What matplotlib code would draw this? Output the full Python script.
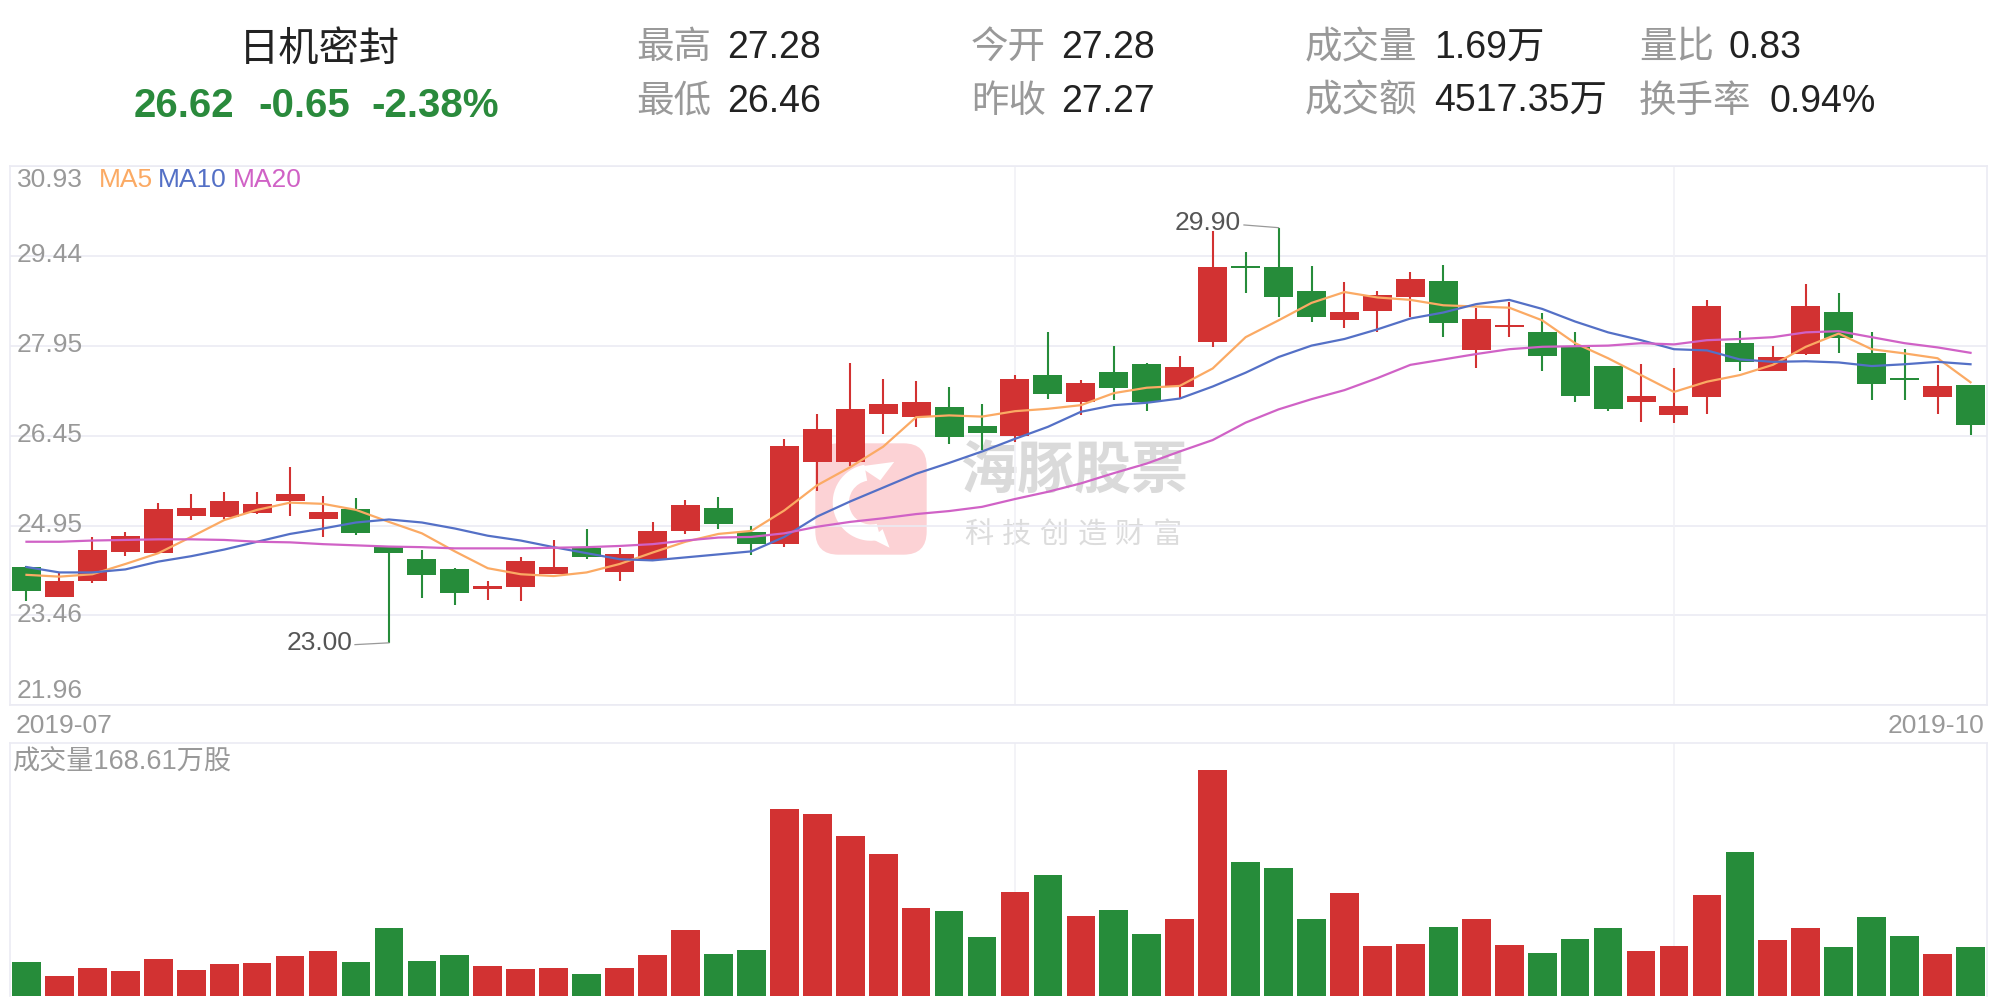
import numpy as np
import matplotlib
matplotlib.use("Agg")
import matplotlib.pyplot as plt
from matplotlib.patches import FancyBboxPatch, Wedge, Polygon
import matplotlib.transforms as mtransforms

plt.rcParams['font.family'] = ['Liberation Sans', 'Noto Sans CJK SC', 'DejaVu Sans']

W, H = 2001, 999

# daily candles (60 sessions, 2019-07 .. 2019-10)
opens = [24.26, 23.76, 24.03, 24.51, 24.50, 25.11, 25.09, 25.16, 25.35, 25.05,
         25.23, 24.60, 24.40, 24.22, 23.90, 23.92, 24.15, 24.58, 24.18, 24.38,
         24.86, 25.24, 24.84, 24.65, 26.00, 26.01, 26.81, 26.76, 26.92, 26.60,
         26.44, 27.45, 27.00, 27.50, 27.63, 27.26, 28.00, 29.26, 29.24, 28.84,
         28.37, 28.51, 28.75, 29.01, 27.87, 28.27, 28.16, 27.92, 27.60, 27.00,
         26.79, 27.09, 27.99, 27.52, 27.80, 28.50, 27.82, 27.41, 27.08, 27.28]
highs = [24.27, 24.16, 24.76, 24.85, 25.33, 25.48, 25.50, 25.50, 25.92, 25.44,
         25.41, 24.60, 24.55, 24.24, 24.03, 24.43, 24.71, 24.90, 24.58, 25.00,
         25.38, 25.42, 24.94, 26.39, 26.81, 27.65, 27.39, 27.35, 27.25, 26.97,
         27.45, 28.16, 27.36, 27.94, 27.65, 27.76, 29.84, 29.49, 29.90, 29.26,
         28.99, 28.85, 29.16, 29.28, 28.57, 28.66, 28.48, 28.16, 27.60, 27.64,
         27.56, 28.69, 28.18, 27.94, 28.97, 28.81, 28.16, 27.89, 27.61, 27.28]
lows = [23.70, 23.76, 24.00, 24.45, 24.50, 25.04, 25.05, 25.14, 25.11, 24.76,
        24.79, 23.00, 23.75, 23.63, 23.72, 23.70, 24.15, 24.40, 24.02, 24.38,
        24.81, 24.89, 24.46, 24.60, 25.53, 25.94, 26.47, 26.58, 26.31, 26.21,
        26.33, 27.06, 26.78, 27.03, 26.86, 27.07, 27.92, 28.82, 28.41, 28.34,
        28.24, 28.16, 28.41, 28.08, 27.57, 28.08, 27.51, 27.01, 26.86, 26.67,
        26.66, 26.81, 27.51, 27.51, 27.79, 27.82, 27.03, 27.03, 26.81, 26.46]
closes = [23.86, 24.03, 24.54, 24.78, 25.23, 25.24, 25.36, 25.31, 25.48, 25.17,
          24.82, 24.49, 24.12, 23.82, 23.94, 24.36, 24.26, 24.42, 24.48, 24.86,
          25.29, 24.97, 24.64, 26.27, 26.56, 26.89, 26.97, 27.00, 26.42, 26.48,
          27.39, 27.14, 27.32, 27.24, 27.01, 27.58, 29.24, 29.25, 28.74, 28.41,
          28.50, 28.78, 29.04, 28.31, 28.38, 28.30, 27.77, 27.10, 26.88, 27.11,
          26.94, 28.60, 27.67, 27.75, 28.60, 28.06, 27.30, 27.38, 27.27, 26.62]
# volume in 万股
volumes = [117.0, 68.8, 96.3, 86.0, 127.3, 89.5, 110.1, 113.6, 137.6, 154.8,
           117.0, 234.0, 120.4, 141.1, 103.2, 92.9, 96.3, 75.7, 96.3, 141.1,
           227.1, 144.5, 158.3, 643.5, 626.3, 550.6, 488.6, 302.8, 292.5, 203.0,
           357.9, 416.4, 275.3, 295.9, 213.3, 265.0, 777.7, 461.1, 440.4, 265.0,
           354.4, 172.1, 178.9, 237.4, 265.0, 175.5, 148.0, 196.1, 234.0, 154.8,
           172.1, 347.5, 495.5, 192.7, 234.0, 168.6, 271.8, 206.5, 144.5, 168.61]

ma5 = [24.13, 24.10, 24.14, 24.31, 24.49, 24.76, 25.04, 25.21, 25.33, 25.31,
       25.21, 25.01, 24.82, 24.52, 24.24, 24.14, 24.11, 24.17, 24.31, 24.50,
       24.68, 24.81, 24.86, 25.20, 25.62, 25.92, 26.26, 26.75, 26.78, 26.76,
       26.85, 26.89, 26.95, 27.15, 27.24, 27.27, 27.56, 28.08, 28.36, 28.65,
       28.83, 28.74, 28.70, 28.61, 28.59, 28.57, 28.36, 27.98, 27.73, 27.45,
       27.17, 27.34, 27.45, 27.62, 27.92, 28.14, 27.88, 27.81, 27.73, 27.33]
ma10 = [24.26, 24.17, 24.17, 24.22, 24.35, 24.44, 24.55, 24.68, 24.81, 24.90,
        25.00, 25.05, 25.00, 24.90, 24.78, 24.70, 24.59, 24.49, 24.39, 24.37,
        24.42, 24.47, 24.52, 24.76, 25.10, 25.35, 25.58, 25.81, 25.99, 26.18,
        26.39, 26.59, 26.84, 26.95, 26.99, 27.06, 27.26, 27.49, 27.75, 27.94,
        28.05, 28.21, 28.39, 28.49, 28.63, 28.70, 28.55, 28.34, 28.16, 28.03,
        27.88, 27.86, 27.71, 27.67, 27.68, 27.66, 27.60, 27.63, 27.67, 27.63]
ma20 = [24.68, 24.68, 24.70, 24.71, 24.72, 24.72, 24.71, 24.68, 24.67, 24.64,
        24.62, 24.60, 24.59, 24.57, 24.57, 24.57, 24.58, 24.59, 24.61, 24.64,
        24.70, 24.75, 24.76, 24.82, 24.93, 25.01, 25.07, 25.14, 25.19, 25.26,
        25.39, 25.51, 25.65, 25.82, 25.98, 26.18, 26.37, 26.66, 26.88, 27.05,
        27.20, 27.40, 27.62, 27.71, 27.80, 27.88, 27.92, 27.93, 27.94, 27.98,
        27.96, 28.03, 28.05, 28.08, 28.16, 28.18, 28.08, 27.98, 27.91, 27.82]

price_labels = ['21.96', '23.46', '24.95', '26.45', '27.95', '29.44', '30.93']
month_labels = ['2019-07', '2019-10']
month_grid = [30, 50]

RED = '#d23232'
GREEN = '#268c3a'
GRID = '#ebebf3'
LABEL = '#999999'
TEXT = '#222222'


def fx(x):
    return x / W


def fy(y):
    return 1 - y / H


def main():
    fig = plt.figure(figsize=(W / 100, H / 100), dpi=100)
    fig.patch.set_facecolor('white')

    n = len(closes)
    x = np.arange(n)
    o = np.array(opens)
    c = np.array(closes)
    up = c >= o
    colors = [RED if u else GREEN for u in up]

    # --- price panel
    top, bot = 165.7, 705.4
    ax = fig.add_axes([fx(10), fy(bot), 1977 / W, (bot - top) / H])
    ax.set_zorder(1)
    ax.patch.set_alpha(0)
    ymin, ymax = float(price_labels[0]), float(price_labels[-1])
    ax.set_xlim(-0.5, n - 0.5)
    ax.set_ylim(ymin, ymax)
    ax.set_xticks([])
    ax.set_yticks([])
    for s in ax.spines.values():
        s.set_color(GRID)
        s.set_linewidth(1.2)

    ticks = np.linspace(ymin, ymax, len(price_labels))
    for t in ticks:
        ax.axhline(t, color=GRID, lw=1.2, zorder=0)
    for g in month_grid:
        ax.axvline(g, color='#f1f1f6', lw=1.2, zorder=0)

    trans = mtransforms.blended_transform_factory(ax.transAxes, ax.transData)
    for i, (t, lab) in enumerate(zip(ticks, price_labels)):
        if i == 0:
            yb = t + 0.12
        elif i == len(ticks) - 1:
            yb = t - 0.354
        else:
            yb = t - 0.106
        ax.text(7 / 1977, yb, lab, transform=trans, fontsize=19, color=LABEL,
                va='baseline', ha='left', zorder=6)

    # candles
    ax.vlines(x, lows, highs, colors=colors, lw=1.5, zorder=2)
    body = np.maximum(np.abs(c - o), 0.04)
    bottom = np.minimum(o, c) - np.where(np.abs(c - o) < 0.04, 0.02, 0)
    ax.bar(x, body, bottom=bottom, width=0.88, color=colors, zorder=3)

    # moving averages
    ax.plot(x, ma5, color='#fbaa64', lw=1.6, zorder=4)
    ax.plot(x, ma10, color='#5470c6', lw=1.6, zorder=4)
    ax.plot(x, ma20, color='#d062c6', lw=1.6, zorder=4)

    legend_y = ymax - 0.354
    for lab, col, px in [('MA5', '#fbaa64', 99), ('MA10', '#5470c6', 158),
                         ('MA20', '#d062c6', 233)]:
        ax.text((px - 10) / 1977, legend_y, lab, transform=trans, fontsize=19,
                color=col, va='baseline', ha='left', zorder=6)

    # low / high marks
    ilo = int(np.argmin(lows))
    ihi = int(np.argmax(highs))
    ax.plot([ilo - 1.03, ilo], [lows[ilo] - 0.03, lows[ilo]], color='#999999', lw=0.9, zorder=5)
    ax.text(ilo - 1.12, lows[ilo], '%.2f' % lows[ilo], fontsize=19, color='#555555',
            ha='right', va='center', zorder=6)
    ax.plot([ihi - 1.05, ihi], [highs[ihi] + 0.045, highs[ihi]], color='#999999', lw=0.9, zorder=5)
    ax.text(ihi - 1.14, highs[ihi] + 0.07, '%.2f' % highs[ihi], fontsize=19, color='#555555',
            ha='right', va='center', zorder=6)

    # --- volume panel
    vtop, vbot = 743.3, 996
    vax = fig.add_axes([fx(10), fy(vbot), 1977 / W, (vbot - vtop) / H])
    vax.set_xlim(-0.5, n - 0.5)
    vax.set_ylim(0, volumes[-1] * (vbot - vtop) / 49)
    vax.set_xticks([])
    vax.set_yticks([])
    for k, s in vax.spines.items():
        s.set_color(GRID)
        s.set_linewidth(1.2)
    vax.spines['bottom'].set_visible(False)
    for g in month_grid:
        vax.axvline(g, color='#f1f1f6', lw=1.2, zorder=0)
    vax.bar(x, volumes, width=0.87, color=colors, zorder=2)
    fig.text(fx(13), fy(770), '成交量%.2f万股' % volumes[-1], fontsize=19.5,
             color=LABEL, va='baseline', ha='left')

    fig.text(fx(16), fy(733), month_labels[0], fontsize=19, color=LABEL,
             va='baseline', ha='left')
    fig.text(fx(1984), fy(733), month_labels[1], fontsize=19, color=LABEL,
             va='baseline', ha='right')

    # --- watermark
    lax = fig.add_axes([fx(813), fy(557), 116 / W, 116 / H])
    lax.set_zorder(0.2)
    lax.set_xlim(0, 1)
    lax.set_ylim(0, 1)
    lax.axis('off')
    lax.add_patch(FancyBboxPatch((0.02, 0.02), 0.96, 0.96,
                                 boxstyle='round,pad=0,rounding_size=0.2',
                                 fc='#fcd2d5', ec='none'))
    lax.add_patch(Wedge((0.5, 0.47), 0.33, 100, 285, width=0.14, fc='white', ec='none'))
    lax.add_patch(Polygon([[0.40, 0.78], [0.70, 0.82], [0.58, 0.66]], fc='white', ec='none'))
    lax.add_patch(Polygon([[0.50, 0.16], [0.66, 0.08], [0.60, 0.24]], fc='white', ec='none'))

    fig.text(fx(960), fy(473), '海豚股票', fontsize=41, fontweight='bold',
             color='#dadada', va='center', ha='left', zorder=0.5)
    for k, ch in enumerate('科技创造财富'):
        fig.text(fx(960 + 18.8 + 37.7 * k), fy(535), ch, fontsize=21,
                 color='#dcdcdc', va='center', ha='center', zorder=0.5)

    # --- header
    fig.text(fx(319), fy(61), '日机密封', fontsize=29, color=TEXT,
             ha='center', va='baseline')
    for s, xx in [('26.62', 134), ('-0.65', 258), ('-2.38%', 371)]:
        fig.text(fx(xx), fy(116.7), s, fontsize=29, fontweight='bold',
                 color='#2a8a3c', ha='left', va='baseline')

    header = [
        ('最高', '27.28', 636, 727, 58.3),
        ('最低', '26.46', 636, 727, 111.7),
        ('今开', '27.28', 971, 1061, 58.3),
        ('昨收', '27.27', 971, 1061, 111.7),
        ('成交量', '1.69万', 1305, 1434, 58.3),
        ('成交额', '4517.35万', 1305, 1434, 111.7),
        ('量比', '0.83', 1639, 1728, 58.3),
        ('换手率', '0.94%', 1639, 1769, 111.7),
    ]
    for lab, val, x1, x2, yb in header:
        fig.text(fx(x1), fy(yb), lab, fontsize=27, color=LABEL, ha='left', va='baseline')
        fig.text(fx(x2), fy(yb), val, fontsize=27, color=TEXT, ha='left', va='baseline')

    fig.savefig('out.png', dpi=100)


if __name__ == "__main__":
    main()
